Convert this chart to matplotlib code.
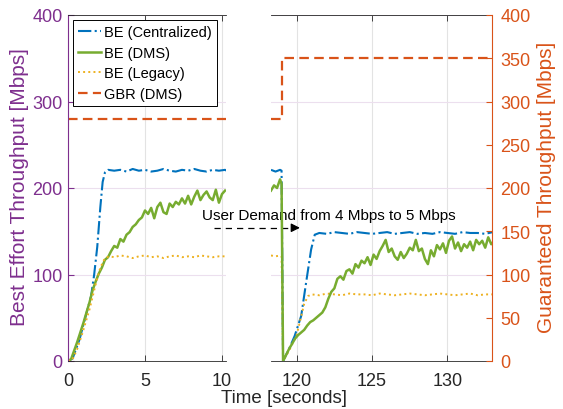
import numpy as np
import matplotlib.pyplot as plt

plt.rcParams['font.family'] = ['Liberation Sans', 'DejaVu Sans']

# MATLAB-ish colours
C_BLUE = '#0072BD'
C_GREEN = '#77AC30'
C_YELLOW = '#EDB120'
C_ORANGE = '#D95319'
C_PURPLE = '#7E2F8E'
C_AXIS = '#262626'

# ---------------- data: left segment (0 .. 10 s) ----------------
t_cen_a = [0, 0.3, 0.75, 1.15, 1.5, 1.7, 1.9, 2.1, 2.25, 2.4, 2.6,
           3.0, 3.4, 3.8, 4.2, 4.6, 5.0, 5.4, 5.8, 6.2, 6.6, 7.0, 7.4, 7.8,
           8.2, 8.6, 9.0, 9.4, 9.8, 10.2, 10.3]
be_cen_a = [0, 3, 25, 52, 75, 100, 132, 178, 207, 218, 221,
            220, 221, 219, 222, 220, 221, 219, 220, 222, 220, 219, 221, 220,
            222, 220, 219, 221, 220, 221, 220]

t_leg_a = [0, 0.3, 0.6, 0.95, 1.4, 1.8, 2.1, 2.4, 2.7,
           3.0, 3.4, 3.8, 4.2, 4.6, 5.0, 5.4, 5.8, 6.2, 6.6, 7.0, 7.4, 7.8,
           8.2, 8.6, 9.0, 9.4, 9.8, 10.2, 10.3]
be_leg_a = [0, 2, 14, 33, 60, 89, 108, 119, 121,
            120, 122, 121, 119, 121, 122, 120, 121, 119, 121, 122, 120, 121,
            120, 122, 121, 120, 121, 121, 120]

t_dms_a = [0.0, 0.2, 0.4, 0.6, 0.8, 1.0, 1.2, 1.4, 1.6, 1.8, 2.0, 2.2, 2.4,
           2.6, 2.8, 3.0, 3.2, 3.4, 3.6, 3.8, 4.0, 4.2, 4.4, 4.6, 4.8, 5.0,
           5.2, 5.4, 5.6, 5.8, 6.0, 6.2, 6.4, 6.6, 6.8, 7.0, 7.2, 7.4, 7.6,
           7.8, 8.0, 8.2, 8.4, 8.6, 8.8, 9.0, 9.2, 9.4, 9.6, 9.8, 10.0, 10.2]
be_dms_a = [0, 2, 12, 22, 33, 44, 56, 68, 82, 92, 101, 108, 117,
            120, 127, 133, 131, 141, 138, 146, 149, 155, 158, 163, 166, 174,
            170, 177, 165, 178, 183, 172, 170, 182, 178, 184, 181, 188, 182,
            191, 181, 190, 197, 186, 192, 196, 189, 186, 198, 183, 193, 197]

t_gbr_a = [0, 10.3]
gbr_a = [280, 280]

# ---------------- data: right segment (118 .. 133 s) ----------------
t_cen_b = [118.3, 118.6, 118.9, 119.0, 119.1, 119.5, 119.87, 120.3, 120.63,
           120.96, 121.2, 121.5, 122.0, 122.5, 123.0, 123.5, 124.0, 124.5,
           125.0, 125.5, 126.0, 126.5, 127.0, 127.5, 128.0, 128.5, 129.0,
           129.5, 130.0, 130.5, 131.0, 131.5, 132.0, 132.5, 133.0]
be_cen_b = [221, 219, 221, 220, 0, 14, 29, 52, 91,
            129, 146, 148, 147, 149, 148, 147, 149, 148,
            147, 148, 149, 147, 148, 149, 147, 148, 147,
            149, 148, 147, 149, 148, 148, 147, 149]

t_leg_b = [118.3, 118.6, 118.9, 119.0, 119.1, 119.5, 120.0, 120.5, 120.75,
           121.0, 121.5, 122.0, 122.5, 123.0, 123.5, 124.0, 124.5, 125.0,
           125.5, 126.0, 126.5, 127.0, 127.5, 128.0, 128.5, 129.0, 129.5,
           130.0, 130.5, 131.0, 131.5, 132.0, 132.5, 133.0]
be_leg_b = [122, 121, 122, 121, 0, 12, 30, 66, 75,
            77, 76, 78, 77, 76, 78, 77, 77, 76,
            78, 77, 76, 77, 78, 77, 76, 77, 78,
            77, 76, 77, 78, 76, 77, 77]

t_dms_b = [118.3, 118.5, 118.7, 118.9, 119.0, 119.1,
           119.3, 119.5, 119.7, 119.9, 120.1, 120.3, 120.5, 120.7, 120.9,
           121.1, 121.3, 121.5, 121.7, 121.9, 122.1, 122.3, 122.5, 122.7,
           122.9, 123.1, 123.3, 123.5, 123.7, 123.9, 124.1, 124.3, 124.5,
           124.7, 124.9, 125.1, 125.3, 125.5, 125.7, 125.9, 126.1, 126.3,
           126.5, 126.7, 126.9, 127.1, 127.3, 127.5, 127.7, 127.9, 128.1,
           128.3, 128.5, 128.7, 128.9, 129.1, 129.3, 129.5, 129.7, 129.9,
           130.1, 130.3, 130.5, 130.7, 130.9, 131.1, 131.3, 131.5, 131.7,
           131.9, 132.1, 132.3, 132.5, 132.7, 132.9, 133.1]
be_dms_b = [197, 203, 200, 210, 205, 0,
            7, 14, 20, 26, 30, 33, 36, 41, 45,
            47, 50, 53, 56, 62, 72, 80, 84, 95,
            98, 94, 104, 106, 101, 112, 108, 116, 113,
            120, 111, 123, 118, 127, 133, 140, 126, 130,
            121, 117, 126, 119, 124, 131, 128, 140, 127,
            130, 118, 112, 128, 121, 134, 129, 136, 125,
            139, 144, 130, 137, 127, 135, 131, 138, 128,
            140, 135, 139, 131, 143, 135, 139]

t_gbr_b = [118.3, 119.05, 119.05, 133.2]
gbr_b = [280, 280, 350, 350]

# ---------------- figure ----------------
fig = plt.figure(figsize=(5.63, 4.10), dpi=100)
bottom, height = 48 / 410, 346 / 410
ax1 = fig.add_axes([68 / 563, bottom, 158 / 563, height])
ax2 = fig.add_axes([271 / 563, bottom, 221 / 563, height])
ax3 = ax2.twinx()

grid_x = '#e3e3e3'
grid_y = '#ecdfee'

def style_common(ax):
    ax.set_ylim(0, 400)
    ax.set_yticks([0, 100, 200, 300, 400])
    ax.xaxis.grid(True, color=grid_x, linewidth=0.8)
    ax.yaxis.grid(True, color=grid_y, linewidth=0.8)
    ax.set_axisbelow(True)
    ax.spines['top'].set_color(C_AXIS)
    ax.spines['bottom'].set_color(C_AXIS)
    ax.spines['top'].set_linewidth(0.6)
    ax.spines['bottom'].set_linewidth(0.6)
    ax.spines['right'].set_visible(False)
    ax.tick_params(axis='x', direction='in', top=True, length=4, width=0.6,
                   color=C_AXIS, labelcolor=C_AXIS, labelsize=13, pad=8)

style_common(ax1)
style_common(ax2)

# left panel
ax1.plot(t_cen_a, be_cen_a, color=C_BLUE, linestyle='-.', linewidth=1.5,
         label='BE (Centralized)')
ax1.plot(t_dms_a, be_dms_a, color=C_GREEN, linestyle='-', linewidth=1.8,
         label='BE (DMS)')
ax1.plot(t_leg_a, be_leg_a, color=C_YELLOW, linestyle=':', linewidth=1.4,
         label='BE (Legacy)')
ax1.plot(t_gbr_a, gbr_a, color=C_ORANGE, linestyle='--', dashes=(4.3, 2.4),
         linewidth=1.6, label='GBR (DMS)')
ax1.set_xlim(0, 10.26)
ax1.set_xticks([0, 5, 10])
ax1.spines['left'].set_color(C_PURPLE)
ax1.spines['left'].set_linewidth(0.8)
ax1.tick_params(axis='y', direction='in', length=4, width=0.8, color=C_PURPLE,
                labelcolor=C_PURPLE, labelsize=13, pad=4)

# right panel
ax2.plot(t_cen_b, be_cen_b, color=C_BLUE, linestyle='-.', linewidth=1.5, zorder=3)
ax2.plot(t_leg_b, be_leg_b, color=C_YELLOW, linestyle=':', linewidth=1.4, zorder=3)
ax2.plot(t_dms_b, be_dms_b, color=C_GREEN, linestyle='-', linewidth=1.8, zorder=4)
ax2.set_xlim(118.3, 132.95)
ax2.set_xticks([120, 125, 130])
ax2.spines['left'].set_visible(False)
ax2.tick_params(axis='y', left=False, labelleft=False)

ax3.plot(t_gbr_b, gbr_b, color=C_ORANGE, linestyle='--', dashes=(4.3, 2.4),
         linewidth=1.6)
ax3.set_ylim(0, 400)
ax3.set_yticks(np.arange(0, 401, 50))
for s in ['left', 'top', 'bottom']:
    ax3.spines[s].set_visible(False)
ax3.spines['right'].set_color(C_ORANGE)
ax3.spines['right'].set_linewidth(0.8)
ax3.tick_params(axis='y', direction='in', length=4, width=0.8, color=C_ORANGE,
                labelcolor=C_ORANGE, labelsize=13, pad=6)

# annotation across the break
ax2.text(113.75, 169, 'User Demand from 4 Mbps to 5 Mbps', fontsize=11,
         ha='left', va='center', color='black', clip_on=False, zorder=2)
ax2.plot([114.55, 119.9], [154, 154], color='black', linestyle='--',
         dashes=(5, 4), linewidth=0.9, clip_on=False, zorder=2)
ax2.annotate('', xy=(120.4, 154), xytext=(119.7, 154),
             arrowprops=dict(arrowstyle='-|>', color='black', lw=0.9,
                             mutation_scale=13),
             annotation_clip=False, zorder=2)

leg = ax1.legend(loc='upper left', bbox_to_anchor=(0.03, 0.985),
                 borderaxespad=0, fontsize=10.5, handlelength=1.6,
                 handletextpad=0.2, labelspacing=0.45, borderpad=0.35,
                 fancybox=False, framealpha=1, edgecolor='black')
leg.get_frame().set_linewidth(0.7)

fig.text(284 / 563, (410 - 399) / 410, 'Time [seconds]', fontsize=13.5,
         ha='center', va='center', color=C_AXIS)
fig.text(20 / 563, (410 - 187) / 410, 'Best Effort Throughput [Mbps]',
         fontsize=15, rotation=90, ha='center', va='center', color=C_PURPLE)
fig.text(547 / 563, (410 - 187) / 410, 'Guaranteed Throughput [Mbps]',
         fontsize=15, rotation=90, ha='center', va='center', color=C_ORANGE)

fig.savefig('out.png', dpi=100)
